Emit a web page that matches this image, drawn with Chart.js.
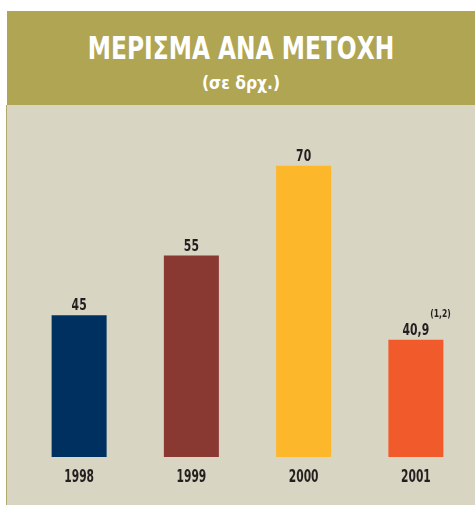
<!DOCTYPE html>
<html>
<head>
<meta charset="utf-8">
<script src="https://cdn.jsdelivr.net/npm/chart.js@4"></script>
<style>
  html, body { margin: 0; padding: 0; background: #ffffff; width: 475px; height: 505px; overflow: hidden; }
  #header { position: absolute; left: 7px; top: 11px; width: 468px; height: 94px; background: #AFA552; color: #ffffff; text-align: center; font-family: "DejaVu Sans Condensed", "DejaVu Sans", sans-serif; font-weight: bold; }
  #title { position: absolute; left: 0; right: 0; top: 17px; font-size: 32px; line-height: 40px; transform: scaleX(0.81); }
  #subtitle { position: absolute; left: 0; right: 0; top: 61px; font-size: 18px; line-height: 22px; transform: scaleX(0.96); }
  #panel { position: absolute; left: 6px; top: 105px; width: 468px; height: 400px; background: #D8D5C3; border-left: 1px solid #B3AA6C; }
  #chart { position: absolute; left: 0; top: 0; }
</style>
</head>
<body>
<div id="header"><div id="title">ΜΕΡΙΣΜΑ ΑΝΑ ΜΕΤΟΧΗ</div><div id="subtitle">(σε δρχ.)</div></div>
<div id="panel"><canvas id="chart" width="468" height="400"></canvas></div>
<script>
const categories = ['1998', '1999', '2000', '2001'];
const dividends = [45, 55, 70, 40.9];
const footnotes = ['', '', '', '(1,2)'];
const barColors = ['#00305F', '#8A3832', '#FDB72A', '#F15B2B'];

const FONT = '"DejaVu Sans Condensed", "DejaVu Sans", sans-serif';
const TEXT_COLOR = '#231F20';

function drawCondensed(ctx, text, x, y, sx, align) {
  ctx.save();
  ctx.translate(x, y);
  ctx.scale(sx, 1);
  ctx.textAlign = align || 'center';
  ctx.fillText(text, 0, 0);
  ctx.restore();
}

const labelsPlugin = {
  id: 'labelsPlugin',
  afterDatasetsDraw(chart) {
    const ctx = chart.ctx;
    const meta = chart.getDatasetMeta(0);
    const xScale = chart.scales.x;
    ctx.save();
    ctx.fillStyle = TEXT_COLOR;
    ctx.textBaseline = 'alphabetic';
    // category labels from the x scale
    ctx.font = 'bold 18px ' + FONT;
    categories.forEach((c, i) => {
      drawCondensed(ctx, c, xScale.getPixelForTick(i), chart.chartArea.bottom + 25, 0.66);
    });
    // value labels
    meta.data.forEach((bar, i) => {
      const txt = String(dividends[i]).replace('.', ',');
      ctx.font = 'bold 15px ' + FONT;
      const sx = 0.8;
      const base = bar.y - 5;
      drawCondensed(ctx, txt, bar.x, base, sx);
      if (footnotes[i]) {
        const w = ctx.measureText(txt).width * sx;
        ctx.font = 'bold 10px ' + FONT;
        drawCondensed(ctx, footnotes[i], bar.x + w / 2 + 1, base - 18, 0.85, 'left');
      }
    });
    ctx.restore();
  }
};

new Chart(document.getElementById('chart'), {
  type: 'bar',
  data: {
    labels: categories,
    datasets: [{
      data: dividends,
      backgroundColor: barColors,
      borderWidth: 0,
      categoryPercentage: 1.0,
      barPercentage: 0.49
    }]
  },
  options: {
    responsive: false,
    animation: false,
    layout: { padding: { left: 16, right: 3, top: 25, bottom: 48 } },
    plugins: { legend: { display: false }, tooltip: { enabled: false } },
    scales: {
      x: {
        grid: { display: false, drawTicks: false },
        border: { display: false },
        ticks: { display: false }
      },
      y: {
        display: false,
        min: 21.3,
        max: 76
      }
    }
  },
  plugins: [labelsPlugin]
});
</script>
</body>
</html>
